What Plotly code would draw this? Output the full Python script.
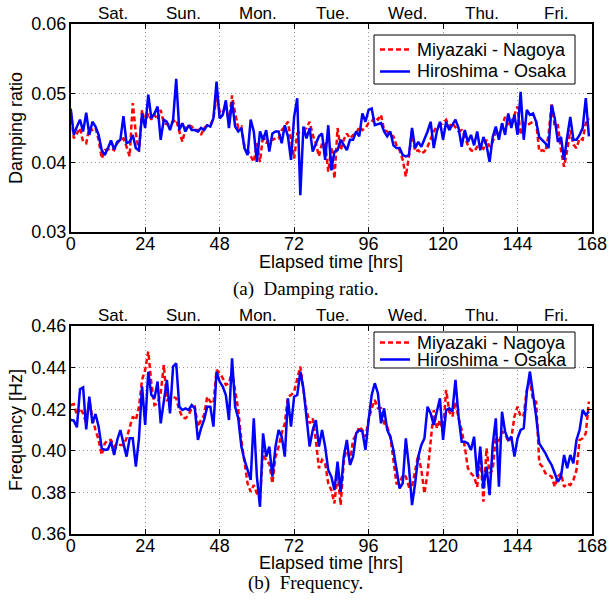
import plotly.graph_objects as go

hours = list(range(168))

day_labels = ["Sat.", "Sun.", "Mon.", "Tue.", "Wed.", "Thu.", "Fri."]
day_pos = [13.5, 36.5, 60.5, 84.5, 108.5, 132.5, 156.5]
x_ticks = [0, 24, 48, 72, 96, 120, 144, 168]
damp_ticks = [0.03, 0.04, 0.05, 0.06]
freq_ticks = [0.36, 0.38, 0.40, 0.42, 0.44, 0.46]

series_names = ["Miyazaki - Nagoya", "Hiroshima - Osaka"]

damp_miyazaki = [
    0.0474, 0.0435, 0.0442, 0.0450, 0.0430, 0.0428, 0.0450, 0.0447, 0.0450, 0.0433,
    0.0406, 0.0418, 0.0419, 0.0421, 0.0418, 0.0428, 0.0433, 0.0435, 0.0423, 0.0409,
    0.0486, 0.0442, 0.0416, 0.0476, 0.0457, 0.0471, 0.0462, 0.0469, 0.0462, 0.0476,
    0.0457, 0.0455, 0.0454, 0.0459, 0.0462, 0.0445, 0.0430, 0.0450, 0.0454, 0.0452,
    0.0447, 0.0447, 0.0440, 0.0450, 0.0454, 0.0454, 0.0464, 0.0495, 0.0474, 0.0471,
    0.0483, 0.0459, 0.0497, 0.0471, 0.0450, 0.0452, 0.0423, 0.0418, 0.0409, 0.0401,
    0.0428, 0.0401, 0.0440, 0.0428, 0.0435, 0.0433, 0.0435, 0.0435, 0.0447, 0.0452,
    0.0459, 0.0435, 0.0406, 0.0442, 0.0445, 0.0448, 0.0450, 0.0459, 0.0440, 0.0428,
    0.0409, 0.0428, 0.0428, 0.0387, 0.0423, 0.0377, 0.0450, 0.0418, 0.0433, 0.0442,
    0.0435, 0.0440, 0.0442, 0.0452, 0.0447, 0.0450, 0.0457, 0.0459, 0.0466, 0.0462,
    0.0469, 0.0447, 0.0445, 0.0440, 0.0438, 0.0425, 0.0418, 0.0404, 0.0380, 0.0409,
    0.0445, 0.0416, 0.0418, 0.0413, 0.0416, 0.0423, 0.0433, 0.0445, 0.0452, 0.0454,
    0.0457, 0.0462, 0.0452, 0.0457, 0.0450, 0.0445, 0.0447, 0.0438, 0.0425, 0.0418,
    0.0416, 0.0423, 0.0423, 0.0420, 0.0433, 0.0423, 0.0430, 0.0445, 0.0440, 0.0454,
    0.0466, 0.0454, 0.0459, 0.0469, 0.0481, 0.0440, 0.0457, 0.0454, 0.0457, 0.0459,
    0.0459, 0.0416, 0.0418, 0.0416, 0.0440, 0.0486, 0.0452, 0.0454, 0.0418, 0.0394,
    0.0418, 0.0447, 0.0426, 0.0421, 0.0435, 0.0433, 0.0457, 0.0464,
]

damp_hiroshima = [
    0.0478, 0.0440, 0.0452, 0.0462, 0.0445, 0.0472, 0.0440, 0.0459, 0.0452, 0.0440,
    0.0418, 0.0411, 0.0421, 0.0432, 0.0419, 0.0430, 0.0433, 0.0467, 0.0428, 0.0430,
    0.0440, 0.0421, 0.0418, 0.0471, 0.0450, 0.0498, 0.0464, 0.0471, 0.0481, 0.0433,
    0.0462, 0.0459, 0.0447, 0.0462, 0.0521, 0.0447, 0.0457, 0.0445, 0.0454, 0.0447,
    0.0447, 0.0445, 0.0450, 0.0447, 0.0454, 0.0452, 0.0464, 0.0517, 0.0464, 0.0469,
    0.0490, 0.0450, 0.0488, 0.0452, 0.0445, 0.0450, 0.0421, 0.0411, 0.0462, 0.0445,
    0.0401, 0.0445, 0.0433, 0.0447, 0.0416, 0.0442, 0.0445, 0.0445, 0.0428, 0.0454,
    0.0438, 0.0404, 0.0466, 0.0493, 0.0353, 0.0452, 0.0435, 0.0450, 0.0416, 0.0428,
    0.0438, 0.0442, 0.0404, 0.0454, 0.0389, 0.0416, 0.0418, 0.0433, 0.0425, 0.0418,
    0.0433, 0.0433, 0.0445, 0.0438, 0.0471, 0.0459, 0.0476, 0.0478, 0.0454, 0.0455,
    0.0457, 0.0445, 0.0438, 0.0445, 0.0425, 0.0421, 0.0421, 0.0411, 0.0409, 0.0411,
    0.0450, 0.0421, 0.0430, 0.0423, 0.0433, 0.0445, 0.0459, 0.0421, 0.0445, 0.0459,
    0.0433, 0.0459, 0.0447, 0.0455, 0.0462, 0.0450, 0.0423, 0.0447, 0.0430, 0.0440,
    0.0425, 0.0445, 0.0418, 0.0437, 0.0425, 0.0401, 0.0437, 0.0452, 0.0433, 0.0457,
    0.0440, 0.0471, 0.0450, 0.0469, 0.0440, 0.0502, 0.0433, 0.0476, 0.0469, 0.0471,
    0.0459, 0.0437, 0.0433, 0.0428, 0.0421, 0.0483, 0.0464, 0.0430, 0.0437, 0.0404,
    0.0437, 0.0466, 0.0433, 0.0433, 0.0440, 0.0450, 0.0493, 0.0438,
]

freq_miyazaki = [
    0.4220, 0.4225, 0.4172, 0.4204, 0.4180, 0.4132, 0.4244, 0.4156, 0.4100, 0.4052,
    0.3980, 0.4036, 0.4052, 0.4052, 0.4020, 0.4036, 0.4028, 0.4028, 0.4060, 0.4108,
    0.4164, 0.4148, 0.4212, 0.4341, 0.4389, 0.4477, 0.4325, 0.4220, 0.4228, 0.4277,
    0.4413, 0.4244, 0.4252, 0.4260, 0.4252, 0.4196, 0.4161, 0.4156, 0.4172, 0.4204,
    0.4212, 0.4116, 0.4148, 0.4172, 0.4260, 0.4236, 0.4228, 0.4389, 0.4373, 0.4349,
    0.4317, 0.4325, 0.4381, 0.4293, 0.4196, 0.4052, 0.3956, 0.3843, 0.3803, 0.3835,
    0.3795, 0.3771, 0.4004, 0.3948, 0.3940, 0.3843, 0.3972, 0.4020, 0.4084, 0.4132,
    0.4260, 0.4268, 0.4285, 0.4341, 0.4405, 0.4293, 0.4196, 0.4132, 0.4156, 0.4052,
    0.3916, 0.3956, 0.3940, 0.3843, 0.3811, 0.3747, 0.3892, 0.3739, 0.3948, 0.4020,
    0.3948, 0.4052, 0.4076, 0.4116, 0.4100, 0.4068, 0.4148, 0.4204, 0.4244, 0.4204,
    0.4204, 0.4132, 0.4116, 0.4068, 0.3940, 0.3843, 0.3843, 0.3884, 0.3876, 0.3827,
    0.3827, 0.3900, 0.3980, 0.3908, 0.3795, 0.3892, 0.4044, 0.4196, 0.4108, 0.4148,
    0.4092, 0.4293, 0.4188, 0.4164, 0.4236, 0.4156, 0.4100, 0.4020, 0.3916, 0.3892,
    0.3876, 0.3827, 0.3988, 0.3755, 0.4012, 0.3892, 0.3908, 0.4068, 0.4036, 0.4092,
    0.4084, 0.4044, 0.4060, 0.4164, 0.4212, 0.4164, 0.4172, 0.4293, 0.4333, 0.4244,
    0.4236, 0.3940, 0.3924, 0.3892, 0.3884, 0.3876, 0.3827, 0.3876, 0.3892, 0.3827,
    0.3843, 0.3835, 0.3859, 0.3908, 0.4052, 0.4060, 0.4084, 0.4236,
]

freq_hiroshima = [
    0.4148, 0.4145, 0.4113, 0.4296, 0.4305, 0.4103, 0.4260, 0.4132, 0.4177, 0.4116,
    0.4012, 0.4004, 0.4007, 0.4044, 0.3980, 0.4052, 0.4100, 0.4036, 0.3972, 0.4060,
    0.4060, 0.3924, 0.4060, 0.4310, 0.4124, 0.4380, 0.4268, 0.4252, 0.4333, 0.4132,
    0.4236, 0.4341, 0.4180, 0.4405, 0.4421, 0.4212, 0.4196, 0.4204, 0.4196, 0.4220,
    0.4204, 0.4052, 0.4108, 0.4150, 0.4212, 0.4212, 0.4116, 0.4381, 0.4333, 0.4309,
    0.4268, 0.4148, 0.4445, 0.4212, 0.4156, 0.4020, 0.3956, 0.3908, 0.3860, 0.4156,
    0.3876, 0.3731, 0.4084, 0.3972, 0.4020, 0.3876, 0.4020, 0.4100, 0.4068, 0.3972,
    0.4252, 0.4116, 0.4260, 0.4268, 0.4381, 0.4300, 0.4148, 0.4020, 0.4100, 0.4148,
    0.4020, 0.4100, 0.4020, 0.3908, 0.3876, 0.3811, 0.3948, 0.3803, 0.3972, 0.4052,
    0.3932, 0.3972, 0.4084, 0.4100, 0.4092, 0.4004, 0.4148, 0.4268, 0.4325, 0.4277,
    0.4132, 0.4204, 0.4100, 0.4068, 0.4004, 0.3908, 0.3819, 0.3843, 0.4060, 0.3924,
    0.3739, 0.3843, 0.3972, 0.4028, 0.4060, 0.4212, 0.4180, 0.4124, 0.4188, 0.4252,
    0.4052, 0.4196, 0.4204, 0.4188, 0.4341, 0.4164, 0.4044, 0.4044, 0.4036, 0.4004,
    0.4068, 0.3876, 0.4020, 0.3819, 0.3924, 0.3787, 0.4028, 0.4156, 0.3827, 0.4188,
    0.4092, 0.4052, 0.4068, 0.3972, 0.4060, 0.4100, 0.4108, 0.4285, 0.4381, 0.4277,
    0.4164, 0.4036, 0.4012, 0.3988, 0.3956, 0.3932, 0.3892, 0.3851, 0.3876, 0.3980,
    0.3916, 0.3980, 0.3940, 0.4052, 0.4100, 0.4196, 0.4172, 0.4188,
]

FONT = "Liberation Sans, Arial, Helvetica, sans-serif"
SERIF = "Liberation Serif, Times New Roman, serif"
RED = "#ff0000"
BLUE = "#0000ff"
RED_DASH = "5px,3px"

fig = go.Figure()

fig.add_trace(go.Scatter(x=hours, y=damp_miyazaki, mode="lines", name=series_names[0],
                         line=dict(color=RED, width=2.5, dash=RED_DASH),
                         xaxis="x", yaxis="y", showlegend=False))
fig.add_trace(go.Scatter(x=hours, y=damp_hiroshima, mode="lines", name=series_names[1],
                         line=dict(color=BLUE, width=2.5),
                         xaxis="x", yaxis="y", showlegend=False))
fig.add_trace(go.Scatter(x=hours, y=freq_miyazaki, mode="lines", name=series_names[0],
                         line=dict(color=RED, width=2.5, dash=RED_DASH),
                         xaxis="x2", yaxis="y2", showlegend=False))
fig.add_trace(go.Scatter(x=hours, y=freq_hiroshima, mode="lines", name=series_names[1],
                         line=dict(color=BLUE, width=2.5),
                         xaxis="x2", yaxis="y2", showlegend=False))

W, H = 611, 603
xdom = [70.7 / W, 592 / W]
top_dom = [1 - 232 / H, 1 - 24 / H]
bot_dom = [1 - 534 / H, 1 - 326 / H]


def px(x):
    return x / W


def py(y):
    return 1 - y / H


common_axis = dict(
    showline=True, linecolor="black", linewidth=1.5, mirror="ticks",
    ticks="inside", ticklen=5, tickwidth=1, tickcolor="black",
    showgrid=True, gridcolor="#9a9a9a", gridwidth=1, griddash="1px,3px",
    zeroline=False, automargin=False,
    tickfont=dict(family=FONT, size=18, color="black"),
)

fig.update_layout(
    template="none",
    width=W, height=H, autosize=False,
    margin=dict(l=0, r=0, t=0, b=0, pad=0),
    paper_bgcolor="white", plot_bgcolor="white",
    font=dict(family=FONT, size=18, color="black"),
    xaxis=dict(domain=xdom, anchor="y", range=[0, 168], tickvals=x_ticks,
               ticklabelstandoff=-5, **common_axis),
    yaxis=dict(domain=top_dom, anchor="x", range=[0.03, 0.06], tickvals=damp_ticks,
               tickformat=".2f", ticklabelstandoff=-1, **common_axis),
    xaxis2=dict(domain=xdom, anchor="y2", range=[0, 168], tickvals=x_ticks,
                ticklabelstandoff=-5, **common_axis),
    yaxis2=dict(domain=bot_dom, anchor="x2", range=[0.36, 0.46], tickvals=freq_ticks,
                tickformat=".2f", ticklabelstandoff=-1, **common_axis),
    showlegend=False,
)

annotations = []
shapes = []
for xa, dom in (("x", top_dom), ("x2", bot_dom)):
    for lbl, pos in zip(day_labels, day_pos):
        annotations.append(dict(x=pos, y=dom[1], xref=xa, yref="paper", text=lbl,
                                showarrow=False, yanchor="bottom", xanchor="center",
                                yshift=-1, font=dict(family=FONT, size=17, color="black")))

# legends (box, line samples, labels)
legend_boxes = [(374, 575, 35, 84, 49.5, 71.5), (374, 575, 332, 368, 342.5, 359.5)]
for (x0, x1, y0, y1, r1, r2) in legend_boxes:
    shapes.append(dict(type="rect", xref="paper", yref="paper", x0=px(x0), x1=px(x1),
                       y0=py(y1), y1=py(y0), line=dict(color="black", width=1),
                       fillcolor="white", layer="above"))
    for ry, col, dsh, name in ((r1, RED, RED_DASH, series_names[0]),
                               (r2, BLUE, "solid", series_names[1])):
        shapes.append(dict(type="line", xref="paper", yref="paper", x0=px(380), x1=px(410),
                           y0=py(ry), y1=py(ry), line=dict(color=col, width=2.5, dash=dsh),
                           layer="above"))
        annotations.append(dict(x=px(415), y=py(ry), xref="paper", yref="paper", text=name,
                                showarrow=False, xanchor="left", yanchor="middle",
                                font=dict(family=FONT, size=18, color="black")))

xc = (xdom[0] + xdom[1]) / 2
annotations.append(dict(x=xc, y=py(262), xref="paper", yref="paper", xanchor="center",
                        yanchor="middle", text="Elapsed time [hrs]", showarrow=False,
                        font=dict(family=FONT, size=18, color="black")))
annotations.append(dict(x=xc, y=py(563), xref="paper", yref="paper", xanchor="center",
                        yanchor="middle", text="Elapsed time [hrs]", showarrow=False,
                        font=dict(family=FONT, size=18, color="black")))
annotations.append(dict(x=px(16), y=(top_dom[0] + top_dom[1]) / 2, xref="paper", yref="paper",
                        xanchor="center", yanchor="middle",
                        text="Damping ratio", textangle=-90, showarrow=False,
                        font=dict(family=FONT, size=18, color="black")))
annotations.append(dict(x=px(16), y=(bot_dom[0] + bot_dom[1]) / 2, xref="paper", yref="paper",
                        xanchor="center", yanchor="middle",
                        text="Frequency [Hz]", textangle=-90, showarrow=False,
                        font=dict(family=FONT, size=18, color="black")))
annotations.append(dict(x=0.5, y=py(289), xref="paper", yref="paper", xanchor="center",
                        yanchor="middle", text="(a)  Damping ratio.", showarrow=False,
                        font=dict(family=SERIF, size=19, color="black")))
annotations.append(dict(x=0.5, y=py(583), xref="paper", yref="paper", xanchor="center",
                        yanchor="middle", text="(b)  Frequency.", showarrow=False,
                        font=dict(family=SERIF, size=19, color="black")))

fig.update_layout(annotations=annotations, shapes=shapes)

fig.write_html("out.html", config={"displayModeBar": False},
               post_script="document.body.style.margin='0px';document.body.style.overflow='hidden';")
